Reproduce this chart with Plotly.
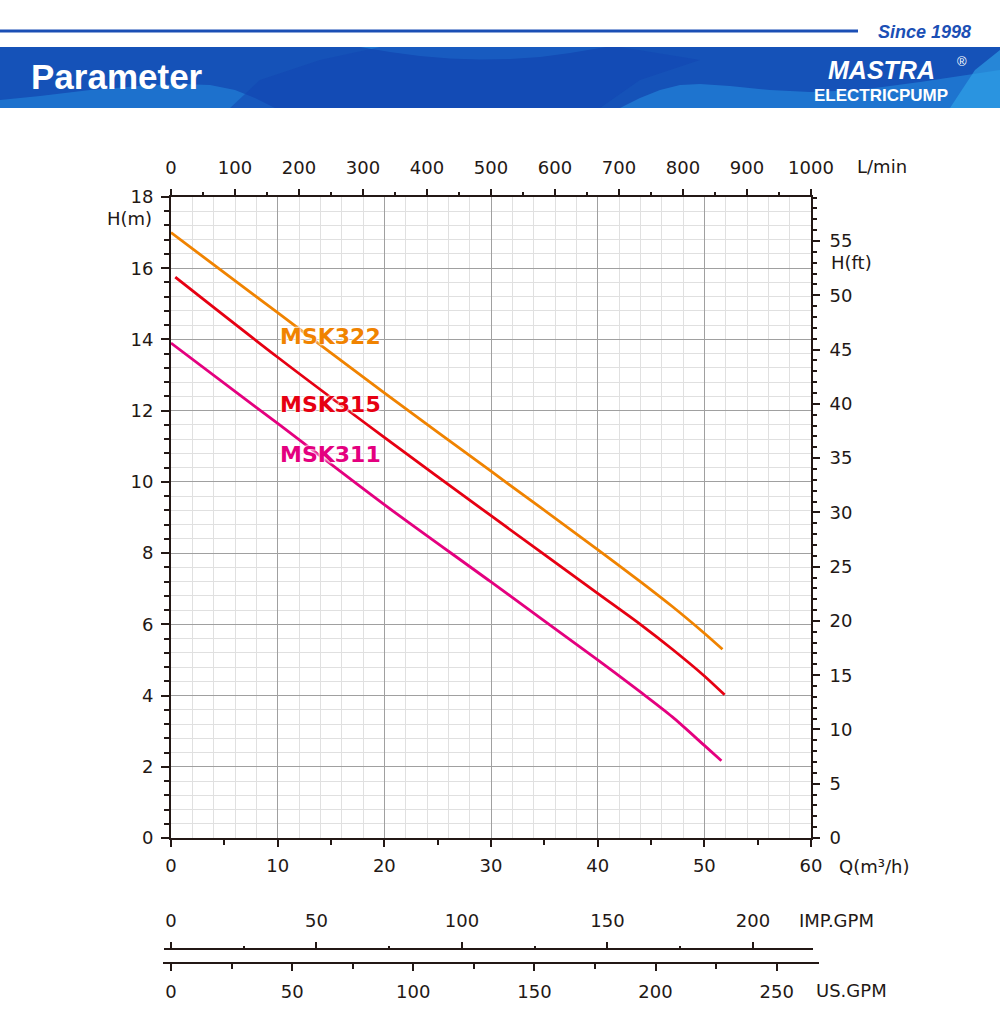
import plotly.graph_objects as go

# ---------------- data ----------------
q_322 = [0, 10, 20, 30, 40, 44, 47, 50, 51.7]
h_322 = [17.0, 14.75, 12.5, 10.3, 8.1, 7.2, 6.5, 5.75, 5.3]

q_315 = [0.4, 10, 20, 30, 40, 44, 47, 50, 51.9]
h_315 = [15.75, 13.5, 11.25, 9.05, 6.87, 6.0, 5.3, 4.55, 4.02]

q_311 = [0, 10, 20, 30, 40, 44, 47, 50, 51.6]
h_311 = [13.9, 11.64, 9.36, 7.19, 5.0, 4.1, 3.4, 2.6, 2.17]

series_names = ["MSK322", "MSK315", "MSK311"]
series_colors = ["#F08300", "#E60012", "#E4007F"]
label_pos_q = [10, 10, 10]
label_pos_h = [14.07, 12.16, 10.76]

Q_MAX = 60
H_MAX = 18
LMIN_MAX = Q_MAX * 1000 / 60
FT_MAX = H_MAX * 3.28084
IMP_MAX = Q_MAX * 1000 / 60 / 4.54609
US_MAX = Q_MAX * 1000 / 60 / 3.78541

# ---------------- geometry helpers (decoration) ----------------
W, H = 1000, 1019
ML, MR, MT, MB = 171, 189, 197, 49
PW = W - ML - MR
PH = H - MT - MB


def px(x):
    return (x - ML) / PW


def py(y):
    return (H - MB - y) / PH


INK = "#231815"
FONT = "DejaVu Sans, Arial, sans-serif"
HFONT = "Liberation Sans, Arial, sans-serif"
BLUE = "#1b4fb5"

fig = go.Figure()

qs = [q_322, q_315, q_311]
hs = [h_322, h_315, h_311]
for name, col, q, h in zip(series_names, series_colors, qs, hs):
    fig.add_trace(go.Scatter(x=q, y=h, mode="lines", name=name,
                             line=dict(color=col, width=2.8, shape="spline", smoothing=0.8),
                             hoverinfo="skip", showlegend=False))

# dummy traces to bind the extra axes
fig.add_trace(go.Scatter(x=[None], y=[None], xaxis="x2", yaxis="y", showlegend=False))
fig.add_trace(go.Scatter(x=[None], y=[None], xaxis="x3", yaxis="y", showlegend=False))
fig.add_trace(go.Scatter(x=[None], y=[None], xaxis="x", yaxis="y2", showlegend=False))
fig.add_trace(go.Scatter(x=[None], y=[None], xaxis="x", yaxis="y3", showlegend=False))
fig.add_trace(go.Scatter(x=[None], y=[None], xaxis="x4", yaxis="y", showlegend=False))
fig.add_trace(go.Scatter(x=[None], y=[None], xaxis="x5", yaxis="y", showlegend=False))

ydom0 = py(838)
tickfont = dict(family=FONT, size=18, color=INK)

fig.update_layout(
    width=W, height=H,
    margin=dict(l=ML, r=MR, t=MT, b=MB, pad=0),
    paper_bgcolor="white", plot_bgcolor="white",
    showlegend=False,
    xaxis=dict(range=[0, Q_MAX], domain=[0, 1], anchor="y",
               showgrid=True, gridcolor="#a0a0a0", gridwidth=1, dtick=10,
               minor=dict(dtick=2, showgrid=True, gridcolor="#e0e0e0", gridwidth=1),
               showticklabels=False, ticks="", zeroline=False, showline=False, fixedrange=True),
    yaxis=dict(range=[0, H_MAX], domain=[ydom0, 1], anchor="x",
               showgrid=True, gridcolor="#a0a0a0", gridwidth=1, dtick=2,
               minor=dict(dtick=0.4, showgrid=True, gridcolor="#e0e0e0", gridwidth=1),
               showticklabels=False, ticks="", zeroline=False, showline=False, fixedrange=True),
    xaxis2=dict(range=[0, Q_MAX], overlaying="x", anchor="y", side="bottom",
                dtick=10, ticks="outside", ticklen=7, tickwidth=2, tickcolor=INK,
                minor=dict(dtick=5, ticks="outside", ticklen=5, tickwidth=2, tickcolor=INK, showgrid=False),
                showline=True, linecolor=INK, linewidth=2, showgrid=False, zeroline=False,
                tickfont=tickfont, ticklabelstandoff=3),
    xaxis3=dict(range=[0, LMIN_MAX], overlaying="x", anchor="y", side="top",
                dtick=100, ticks="outside", ticklen=6, tickwidth=2, tickcolor=INK,
                minor=dict(dtick=50, ticks="outside", ticklen=3, tickwidth=2, tickcolor=INK, showgrid=False),
                showline=True, linecolor=INK, linewidth=2, showgrid=False, zeroline=False,
                tickfont=tickfont, ticklabelstandoff=8),
    yaxis2=dict(range=[0, H_MAX], overlaying="y", anchor="x", side="left",
                dtick=2, ticks="outside", ticklen=8, tickwidth=2, tickcolor=INK,
                minor=dict(dtick=0.4, ticks="outside", ticklen=5, tickwidth=2, tickcolor=INK, showgrid=False),
                showline=True, linecolor=INK, linewidth=2, showgrid=False, zeroline=False,
                tickfont=tickfont, ticklabelstandoff=4),
    yaxis3=dict(range=[0, FT_MAX], overlaying="y", anchor="x", side="right",
                dtick=5, ticks="outside", ticklen=7, tickwidth=2, tickcolor=INK,
                minor=dict(dtick=1, ticks="outside", ticklen=4, tickwidth=2, tickcolor=INK, showgrid=False),
                showline=True, linecolor=INK, linewidth=2, showgrid=False, zeroline=False,
                tickfont=tickfont, ticklabelstandoff=6),
    xaxis4=dict(range=[0, IMP_MAX], overlaying="x", anchor="free", position=py(949), side="top",
                dtick=50, ticks="outside", ticklen=7, tickwidth=2, tickcolor=INK,
                minor=dict(dtick=25, ticks="outside", ticklen=3, tickwidth=2, tickcolor=INK, showgrid=False),
                showline=False, showgrid=False, zeroline=False,
                tickfont=tickfont, ticklabelstandoff=8),
    xaxis5=dict(range=[0, US_MAX], overlaying="x", anchor="free", position=py(963), side="bottom",
                dtick=50, ticks="outside", ticklen=7, tickwidth=2, tickcolor=INK,
                minor=dict(dtick=25, ticks="outside", ticklen=5, tickwidth=2, tickcolor=INK, showgrid=False),
                showline=False, showgrid=False, zeroline=False,
                tickfont=tickfont, ticklabelstandoff=5),
)

shapes = []
# IMP / US axis lines
shapes.append(dict(type="line", xref="paper", yref="paper", x0=px(164), x1=px(813), y0=py(949), y1=py(949),
                   line=dict(color=INK, width=2)))
shapes.append(dict(type="line", xref="paper", yref="paper", x0=px(163), x1=px(819), y0=py(963), y1=py(963),
                   line=dict(color=INK, width=2)))

# header line
shapes.append(dict(type="line", xref="paper", yref="paper", x0=px(0), x1=px(858), y0=py(31), y1=py(31),
                   line=dict(color=BLUE, width=3)))
# banner base
shapes.append(dict(type="rect", xref="paper", yref="paper", x0=px(0), x1=px(1000), y0=py(108), y1=py(47),
                   fillcolor="#1552b8", line=dict(width=0), layer="above"))


def path(points, close=True):
    s = "M " + " L ".join(f"{px(x):.5f},{py(y):.5f}" for x, y in points)
    return s + (" Z" if close else "")


def wave(pts_px, color):
    return dict(type="path", xref="paper", yref="paper", path=path(pts_px),
                line=dict(width=0), layer="above", fillcolor=color)


# lighter / darker waves in the banner
shapes.append(wave([(360, 47), (390, 52), (420, 56), (450, 58.5), (480, 59.5), (510, 59), (540, 57),
                    (570, 53), (600, 48), (606, 47)], "rgba(40,150,230,0.55)"))
shapes.append(wave([(0, 108), (0, 100), (40, 96), (90, 90), (140, 86), (180, 84), (210, 85), (235, 90),
                    (255, 98), (275, 108)], "rgba(40,150,230,0.45)"))
shapes.append(wave([(620, 108), (640, 98), (660, 90), (680, 85), (700, 84), (730, 86), (770, 90), (810, 92),
                    (860, 90), (920, 82), (1000, 70), (1000, 108)], "rgba(40,150,230,0.5)"))
shapes.append(wave([(950, 108), (975, 70), (1000, 50), (1000, 108)], "rgba(50,170,235,0.6)"))
shapes.append(wave([(230, 108), (260, 80), (320, 60), (380, 47), (620, 47), (700, 60), (640, 80), (600, 108)],
                   "rgba(18,70,178,0.55)"))

fig.update_layout(shapes=shapes)

ann = []


def txt(text, x, y, size=18, color=INK, xanchor="left", bold=False, italic=False, family=FONT):
    t = text
    if bold:
        t = f"<b>{t}</b>"
    if italic:
        t = f"<i>{t}</i>"
    ann.append(dict(text=t, x=px(x), y=py(y), xref="paper", yref="paper", showarrow=False,
                    xanchor=xanchor, yanchor="middle", font=dict(family=family, size=size, color=color)))


# axis titles
txt("L/min", 855, 167)
txt("H(m)", 154, 218, xanchor="right")
txt("H(ft)", 829, 262)
txt("Q(m³/h)", 837, 866)
txt("IMP.GPM", 797, 920)
txt("US.GPM", 814, 991)

# header texts
txt("Since 1998", 973, 32, size=18, color=BLUE, xanchor="right", bold=True, italic=True, family=HFONT)
txt("Parameter", 29, 77, size=35, color="white", bold=True, family=HFONT)
txt("MASTRA", 881, 70, size=25, color="white", xanchor="center", bold=True, italic=True, family=HFONT)
txt("ELECTRICPUMP", 881, 95, size=17, color="white", xanchor="center", bold=True, family=HFONT)
txt("®", 962, 62, size=13, color="white", xanchor="center", family=HFONT)

# curve labels
for name, col, lq, lh in zip(series_names, series_colors, label_pos_q, label_pos_h):
    ann.append(dict(text=f"<b>{name}</b>", x=lq, y=lh, xref="x", yref="y", showarrow=False,
                    xanchor="left", yanchor="middle",
                    font=dict(family=FONT, size=22, color=col,
                              shadow="0px 0px 3px white, 0px 0px 3px white, 0px 0px 2px white")))

fig.update_layout(annotations=ann)

fig.write_html("out.html", config={"displayModeBar": False},
               post_script="document.body.style.margin='0px';")
